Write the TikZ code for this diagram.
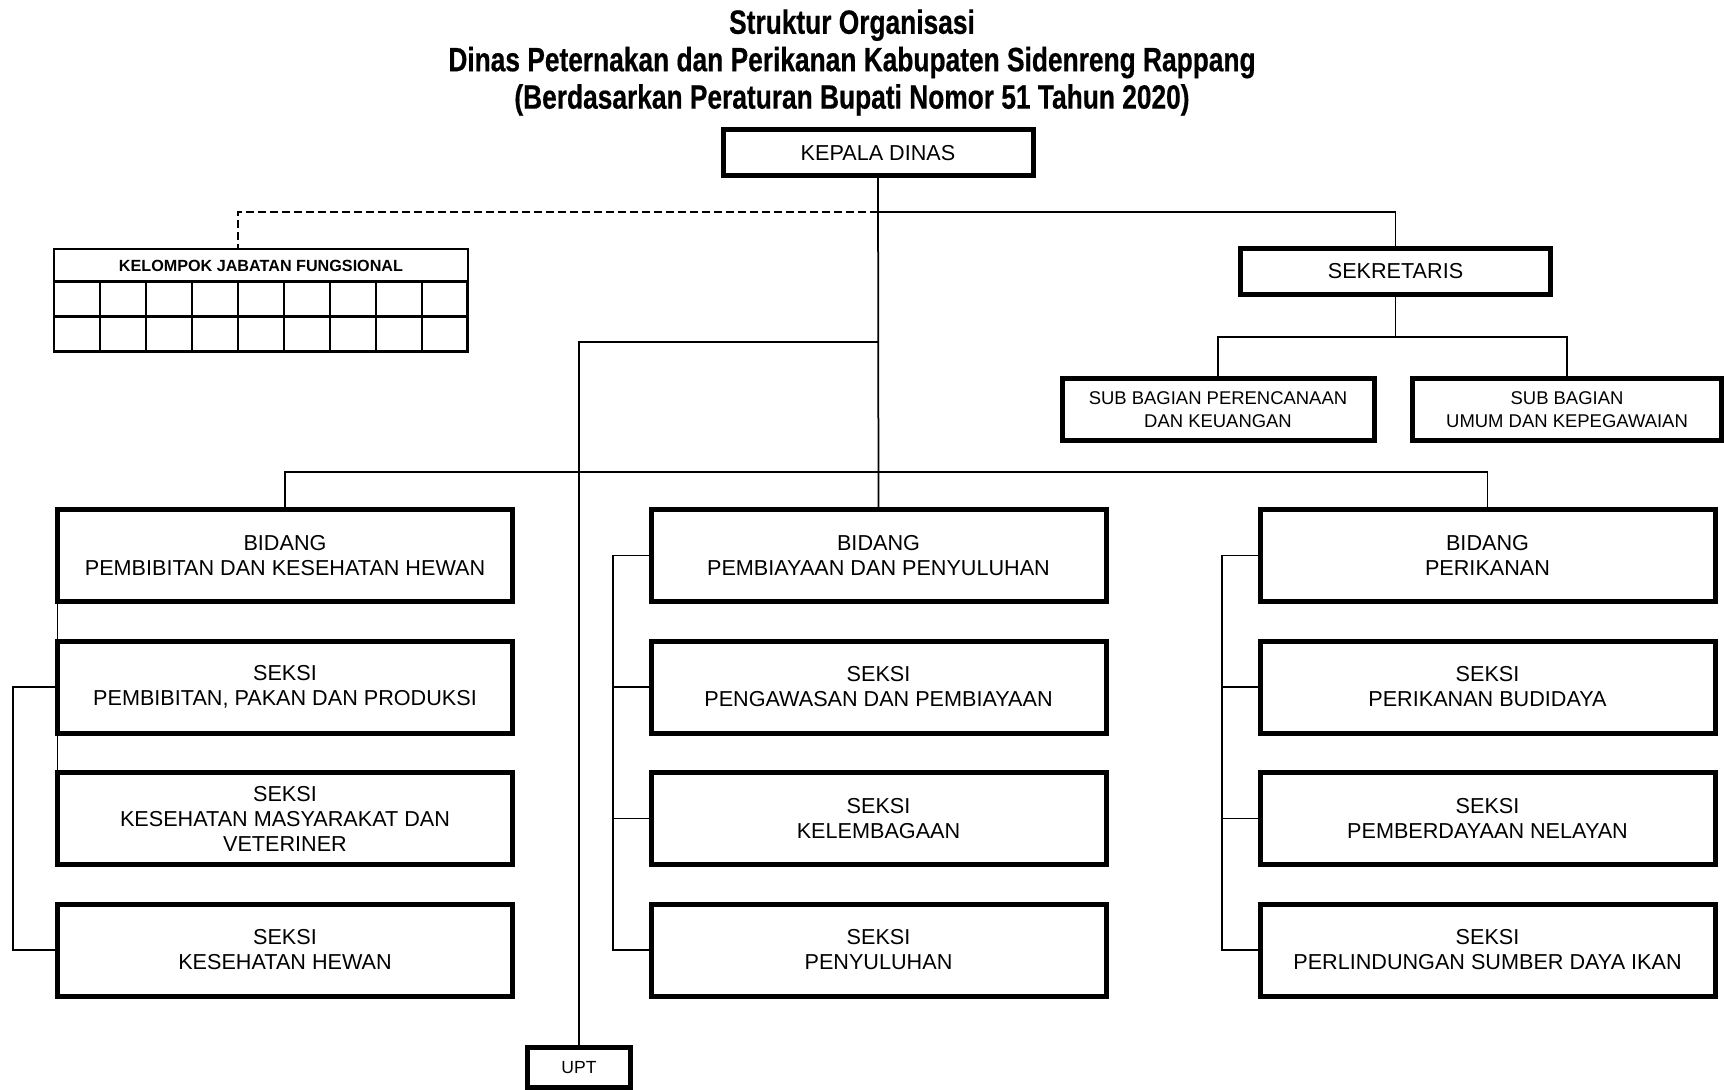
\documentclass[tikz,border=0pt]{standalone}
\usepackage{fontspec}
\setmainfont{Liberation Sans}
\newfontfamily\titlefont[FakeStretch=0.78, BoldFeatures={FakeBold=0.5}]{Liberation Sans}
\usetikzlibrary{positioning}

\begin{document}
\begin{tikzpicture}[x=0.2mm, y=-0.2mm, node distance=7.9mm]
        \tikzstyle{unitbox} = [rectangle, draw=black, line width=1mm, outer sep=0pt, minimum width=91mm, minimum height=18.4mm, text centered, align=center, font=\fontsize{12.3}{14.2}\selectfont]
        \tikzstyle{headbox} = [unitbox, minimum width=62mm, minimum height=9.2mm]
        \tikzstyle{subbox} = [unitbox, minimum width=62.4mm, minimum height=12.4mm, font=\fontsize{10.5}{13}\selectfont]
        \tikzstyle{kjfbox} = [rectangle, draw=black, line width=0.5mm, outer sep=0pt, minimum width=82.7mm, minimum height=6.5mm, font=\bfseries\fontsize{9.2}{11}\selectfont]
        \tikzstyle{link} = [line width=0.35mm]
        \tikzstyle{dashlink} = [link, dash pattern=on 1.6mm off 0.8mm]

        \useasboundingbox (0,0) rectangle (1724,1090);

        \node (title) [anchor=north, align=center, inner sep=0pt, font=\titlefont\bfseries\fontsize{19.2}{21.3}\selectfont] at (852,9) {Struktur Organisasi\\Dinas Peternakan dan Perikanan Kabupaten Sidenreng Rappang\\(Berdasarkan Peraturan Bupati Nomor 51 Tahun 2020)};

        \node (kadis) [headbox] at (878,153) {KEPALA DINAS};
        \node (sekre) [headbox] at (1395.5,271.5) {SEKRETARIS};
        \node (subren) [subbox] at (1218,409.5) {SUB BAGIAN PERENCANAAN\\DAN KEUANGAN};
        \node (subum) [subbox, minimum width=61.8mm] at (1567,409.5) {SUB BAGIAN\\UMUM DAN KEPEGAWAIAN};
        \node (kjf) [kjfbox] at (261,265.5) {KELOMPOK JABATAN FUNGSIONAL};
        \node (upt) [headbox, minimum width=20.6mm, minimum height=8mm, font=\fontsize{10}{12}\selectfont] at (579,1067.5) {UPT};

        \node (bidA) [unitbox] at (285,555.5) {BIDANG\\PEMBIBITAN DAN KESEHATAN HEWAN};
        \node (sekA1) [unitbox, below=of bidA] {SEKSI\\PEMBIBITAN, PAKAN DAN PRODUKSI};
        \node (sekA2) [unitbox, below=of sekA1] {SEKSI\\KESEHATAN MASYARAKAT DAN\\VETERINER};
        \node (sekA3) [unitbox, below=of sekA2] {SEKSI\\KESEHATAN HEWAN};

        \node (bidB) [unitbox] at (878.5,555.5) {BIDANG\\PEMBIAYAAN DAN PENYULUHAN};
        \node (sekB1) [unitbox, below=of bidB] {SEKSI\\PENGAWASAN DAN PEMBIAYAAN};
        \node (sekB2) [unitbox, below=of sekB1] {SEKSI\\KELEMBAGAAN};
        \node (sekB3) [unitbox, below=of sekB2] {SEKSI\\PENYULUHAN};

        \node (bidC) [unitbox] at (1487.5,555.5) {BIDANG\\PERIKANAN};
        \node (sekC1) [unitbox, below=of bidC] {SEKSI\\PERIKANAN BUDIDAYA};
        \node (sekC2) [unitbox, below=of sekC1] {SEKSI\\PEMBERDAYAAN NELAYAN};
        \node (sekC3) [unitbox, below=of sekC2] {SEKSI\\PERLINDUNGAN SUMBER DAYA IKAN};

        \foreach \c in {0,...,8} {
            \foreach \r in {0,1} {
                \draw [line width=0.5mm] (kjf.south west) ++(\c*45.94,\r*35) rectangle ++(45.94,35);
            }
        }

        \coordinate (topbus) at (878,212);
        \coordinate (kjfbus) at (238,212);
        \coordinate (uptbus) at (878,342);
        \coordinate (bidbus) at (878,472);
        \coordinate (subbus) at (1395.5,337);

        \draw [link] (kadis.south) -- (bidB.north);
        \draw [link] (topbus) -| (sekre.north);
        \draw [dashlink] (topbus) -- (kjfbus) -- (kjfbus |- kjf.north);
        \draw [link] (uptbus) -| (upt.north);
        \draw [link] (bidA.north) |- (bidbus) -| (bidC.north);
        \draw [link] (sekre.south) -- (subbus);
        \draw [link] (subren.north) |- (subbus) -| (subum.north);

        \draw [link] (bidA.south west) -- (sekA1.north west);
        \draw [link] (sekA1.south west) -- (sekA2.north west);
        \draw [link] (sekA1.west) -- ++(-44.5,0) |- (sekA3.west);
        \draw [link] (bidB.west) -- ++(-38,0) |- (sekB3.west);
        \draw [link] (bidC.west) -- ++(-38,0) |- (sekC3.west);
        \foreach \n in {sekB1, sekB2, sekC1, sekC2}
            \draw [link] (\n.west) -- ++(-38,0);
    \end{tikzpicture}
\end{document}
